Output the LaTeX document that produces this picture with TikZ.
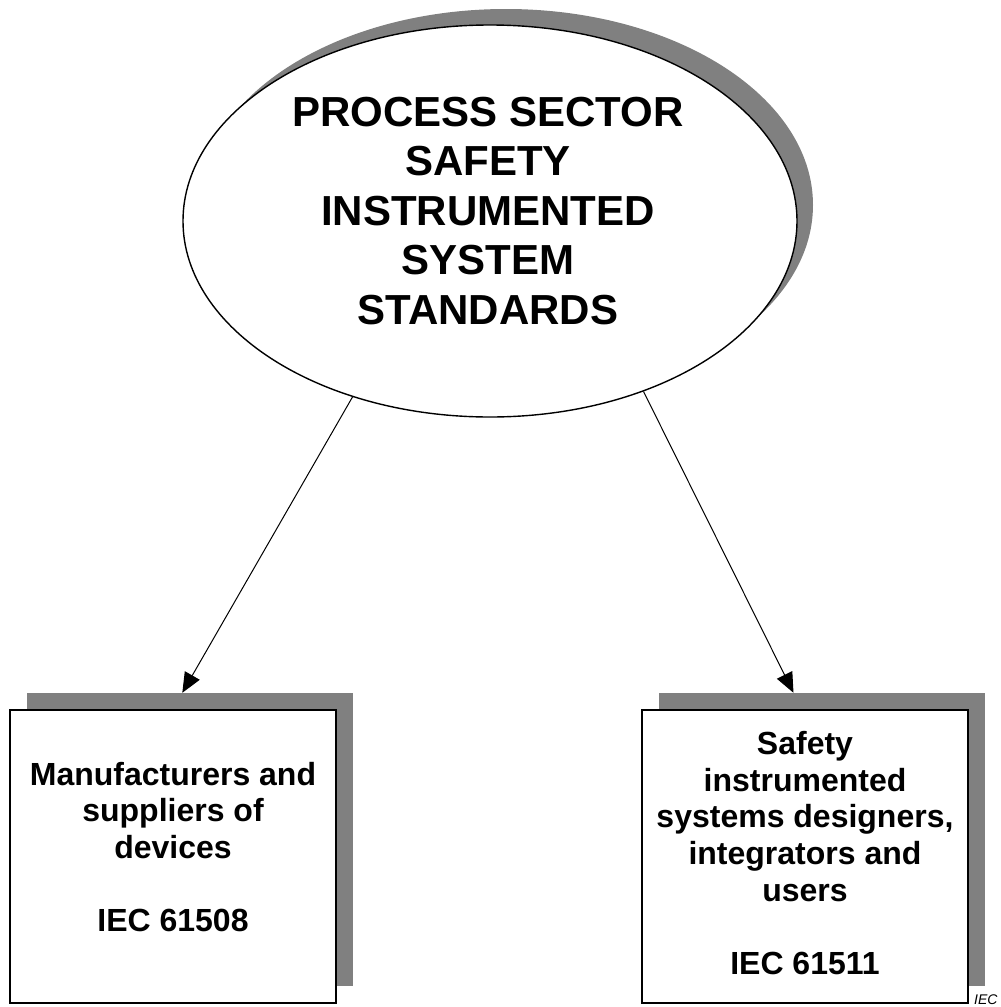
\documentclass[tikz,border=0pt]{standalone}
\usepackage{fontspec}
\setsansfont{Liberation Sans}
\usetikzlibrary{shapes.geometric, arrows.meta}

\begin{document}
\begin{tikzpicture}[x=1pt, y=-1pt,
        ovalshade/.style={ellipse, fill=black!50, minimum width=614pt, minimum height=392pt, inner sep=0pt},
        oval/.style={ellipse, draw, line width=1.4pt, fill=white, minimum width=614pt, minimum height=392pt, inner sep=0pt},
        boxshade/.style={rectangle, fill=black!50, minimum width=326pt, minimum height=293pt, inner sep=0pt},
        groupbox/.style={rectangle, draw, line width=1.6pt, fill=white, minimum width=326pt, minimum height=293pt, inner sep=0pt},
        boxtext/.style={align=center, inner sep=0pt, font=\sffamily\bfseries\fontsize{32}{36.7}\selectfont},
        link/.style={-{Triangle[length=20pt, width=17pt]}, line width=1pt}]
        \useasboundingbox (0,0) rectangle (1001,1007);

        % Nodes
        \node[ovalshade] (ovshade) at (506,205) {};
        \node[oval] (ov) at (490,221) {};
        \node[align=center, inner sep=0pt, font=\sffamily\bfseries\fontsize{42}{49.5}\selectfont] (title) at (488,211) {PROCESS SECTOR\\SAFETY\\INSTRUMENTED\\SYSTEM\\STANDARDS};

        \node[boxshade] (devshade) at (190,839.5) {};
        \node[groupbox] (devbox) at (173,856.5) {};
        \node[boxtext] (devtext) at (173,847) {Manufacturers and\\suppliers of\\devices\\[36.7pt]IEC 61508};

        \node[boxshade] (sisshade) at (822,839.5) {};
        \node[groupbox] (sisbox) at (805,856.5) {};
        \node[boxtext] (sistext) at (805,853) {Safety\\instrumented\\systems designers,\\integrators and\\users\\[36.7pt]IEC 61511};

        \node[anchor=base west, inner sep=0pt, font=\sffamily\itshape\fontsize{14}{14}\selectfont] (figtag) at (974,1004) {IEC};

        % Lines
        \draw[link] (ov.232) -- (devshade.93);
        \draw[link] (ov.312) -- (sisshade.101);
    \end{tikzpicture}
\end{document}
